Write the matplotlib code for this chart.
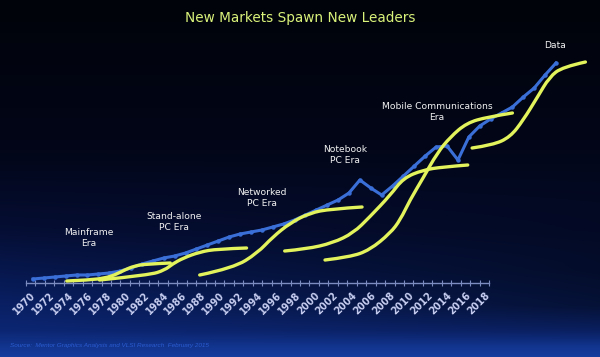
import matplotlib
matplotlib.use("Agg")
import matplotlib.pyplot as plt
from matplotlib.path import Path
from matplotlib.patches import PathPatch
import numpy as np

# Market size (arbitrary index), one point per year
years = list(range(1970, 2019))
market = [4, 5, 6, 7, 8, 8, 9, 10, 12, 15,
          19, 22, 25, 27, 30, 34, 38, 42, 46, 49,
          51, 53, 56, 59, 63, 68, 73, 78, 83, 90,
          103, 95, 88, 97, 107, 117, 127, 136, 137, 123,
          146, 157, 164, 170, 176, 186, 195, 208, 220]

# S-curves for each era (year, index)
mainframe_x = [1973.1, 1975.2, 1976.6, 1977.5, 1978.4, 1979.3, 1980.4, 1982.6]
mainframe_y = [2, 3, 5, 8, 13, 17, 19, 20]

standalone_x = [1976.1, 1980.7, 1982.1, 1982.8, 1983.8, 1985.3, 1986.9, 1989.6]
standalone_y = [3, 8, 13, 19, 25, 31, 34, 35]

networked_x = [1985.3, 1988.4, 1990.6, 1992.0, 1993.6, 1995.4, 1997.3, 2000.2]
networked_y = [8, 15, 30, 46, 60, 70, 74, 76]

notebook_x = [1993.1, 1995.1, 1997.5, 1999.4, 2000.9, 2002.8, 2004.0, 2005.8, 2007.6, 2009.9]
notebook_y = [32, 34, 40, 50, 66, 88, 105, 113, 116, 118]

mobile_x = [1996.8, 1999.1, 2000.9, 2002.8, 2003.7, 2004.6, 2005.8, 2007.1, 2008.3, 2009.8, 2011.7, 2014.0]
mobile_y = [23, 26, 33, 50, 63, 83, 105, 130, 146, 160, 166, 170]

data_x = [2010.3, 2012.2, 2013.8, 2015.0, 2016.3, 2017.4, 2018.6, 2020.7]
data_y = [135, 138, 146, 163, 186, 206, 216, 221]

curves = [(mainframe_x, mainframe_y), (standalone_x, standalone_y),
          (networked_x, networked_y), (notebook_x, notebook_y),
          (mobile_x, mobile_y), (data_x, data_y)]

era_labels = ["Mainframe\nEra", "Stand-alone\nPC Era", "Networked\nPC Era",
              "Notebook\nPC Era", "Mobile Communications\nEra", "Data"]
label_pos = [(89, 238), (174, 222), (262, 198), (345, 155), (437, 112), (555, 46)]

W, H = 600, 357
fig = plt.figure(figsize=(6, 3.57), dpi=100)

# background gradient
bg = fig.add_axes([0, 0, 1, 1])
rows = np.arange(H)
stops_y = [0, 150, 230, 290, 330, 357]
stops_c = np.array([[1, 3, 10], [2, 6, 24], [5, 14, 52], [8, 28, 90],
                    [12, 38, 115], [22, 62, 160]]) / 255.0
col = np.stack([np.interp(rows, stops_y, stops_c[:, i]) for i in range(3)], axis=1)
img = np.repeat(col[:, None, :], W, axis=1)
xs = np.linspace(0, 1, W)
shade = 1 - 0.45 * xs[None, :] * np.clip((rows[:, None] - 150) / 120, 0, 1) * np.clip((345 - rows[:, None]) / 40, 0, 1)
img = img * shade[:, :, None]
bg.imshow(img, aspect="auto", extent=[0, 1, 0, 1])
bg.axis("off")

# x axis (category style: ticks between years)
ax = fig.add_axes([26 / W, (H - 283) / H, 463 / W, 0.01])
ax.patch.set_alpha(0)
for s in ["top", "left", "right"]:
    ax.spines[s].set_visible(False)
ax.spines["bottom"].set_color("#7d8cc0")
ax.spines["bottom"].set_linewidth(1)
ax.set_xlim(1969.5, 2018.5)
ax.set_yticks([])
ax.set_xticks(range(1970, 2019, 2))
ax.set_xticks(np.arange(1969.5, 2019, 1), minor=True)
ax.tick_params(axis="x", which="major", length=0, pad=5)
ax.tick_params(axis="x", which="minor", direction="inout", length=5, color="#7d8cc0", width=0.8)
for lbl in ax.set_xticklabels([str(y) for y in range(1970, 2019, 2)]):
    lbl.set_rotation(45)
    lbl.set_ha("right")
    lbl.set_rotation_mode("anchor")
    lbl.set_fontsize(7)
    lbl.set_fontweight("bold")
    lbl.set_color("#c6cdf0")

# data axes: 1970 sits at px 33, 2018 at px 556
px_per_year = (556 - 33) / 48
x0 = 33 - px_per_year
ax_d = fig.add_axes([x0 / W, (H - 283) / H, 53 * px_per_year / W, 250 / H])
ax_d.patch.set_alpha(0)
ax_d.set_xlim(1969, 2022)
ax_d.set_ylim(0, 250)
ax_d.axis("off")


def smooth_path(xv, yv):
    # quadratic segments through midpoints, read points act as control points
    pts = list(zip(xv, yv))
    verts = [pts[0]]
    codes = [Path.MOVETO]
    for i in range(1, len(pts) - 1):
        mid = ((pts[i][0] + pts[i + 1][0]) / 2, (pts[i][1] + pts[i + 1][1]) / 2)
        if i == len(pts) - 2:
            mid = pts[-1]
        verts += [pts[i], mid]
        codes += [Path.CURVE3, Path.CURVE3]
    return Path(verts, codes)


ax_d.plot(years, market, color="#3b6fd8", lw=2.2, marker="o", markersize=2.2,
          solid_joinstyle="round", zorder=2)
for cx, cy in curves:
    ax_d.add_patch(PathPatch(smooth_path(cx, cy), facecolor="none", edgecolor="#e2f35c",
                             lw=2.4, capstyle="round", joinstyle="round", zorder=3))

fig.text(0.5, 1 - 18 / H, "New Markets Spawn New Leaders", ha="center", va="center",
         fontsize=9.8, color="#d9f27a")
for txt, (px, py) in zip(era_labels, label_pos):
    fig.text(px / W, 1 - py / H, txt, ha="center", va="center", fontsize=6.6,
             color="#f2f2f2", linespacing=1.4)

fig.text(10 / W, 1 - 345 / H, "Source:  Mentor Graphics Analysis and VLSI Research  February 2015",
         ha="left", va="center", fontsize=4.6, style="italic", family="Liberation Sans",
         color="#2b5cd0")

fig.savefig("out.png", dpi=100)
